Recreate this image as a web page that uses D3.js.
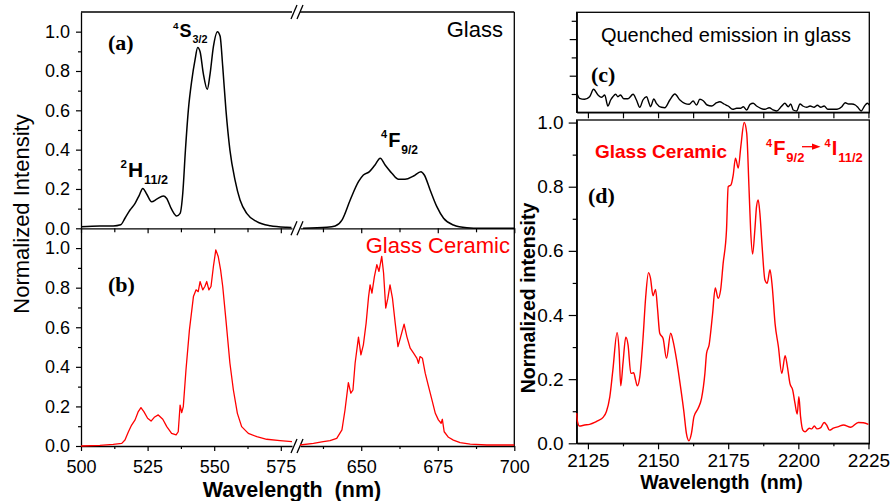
<!DOCTYPE html>
<html>
<head>
<meta charset="utf-8">
<script src="https://cdn.jsdelivr.net/npm/d3@7"></script>
<style>
  body { margin: 0; background: #fff; }
  svg text { font-family: "Liberation Sans", Arial, sans-serif; }
</style>
</head>
<body>
<div id="chart"></div>
<script>
// ---- data ----
// (a) glass, visible emission
const glassWl = [500, 507.1, 512.1, 514.9, 516.5, 518.4, 520.3, 521.9, 523.2, 524.7, 526.5, 528.4, 530.9, 532.1, 534.0,
  535.9, 537.2, 538.2, 539.2, 540.3, 541.6, 542.8, 543.8, 544.7, 545.9, 547.4, 548.4, 549.7, 551.2, 552.2, 553.2, 554.4,
  555.9, 557.8, 559.7, 562.2, 566.0, 571.0, 577.2, 579,
  631, 638.8, 641.5, 643.7, 646.4, 649.1, 650.7, 652.7, 654.5, 656.2, 657.8, 660.0, 662.2, 664.3, 667.1, 669.5, 670.6,
  672.5, 674.7, 676.9, 680.1, 684.5, 688.9, 700];
const glassInt = [0.008, 0.012, 0.012, 0.018, 0.051, 0.093, 0.127, 0.169, 0.203, 0.173, 0.135, 0.148, 0.164, 0.153, 0.097,
  0.063, 0.076, 0.178, 0.398, 0.602, 0.754, 0.856, 0.919, 0.898, 0.788, 0.707, 0.780, 0.924, 1.0, 0.978, 0.822, 0.602,
  0.398, 0.246, 0.144, 0.076, 0.034, 0.013, 0.005, 0.004,
  0, 0.005, 0.012, 0.042, 0.144, 0.237, 0.271, 0.288, 0.322, 0.356, 0.322, 0.280, 0.249, 0.249, 0.266, 0.288, 0.271,
  0.195, 0.110, 0.051, 0.017, 0.003, 0, 0];

// (b) glass ceramic, visible emission
const ceramicWl = [500, 507.1, 512.1, 515.3, 516.5, 517.8, 519.0, 520.3, 521.5, 522.5, 523.6, 525.0, 526.3, 527.5, 529.0,
  530.7, 532.2, 534.0, 535.7, 536.5, 537.2, 537.8, 538.4, 539.4, 540.7, 542.2, 543.2, 544.0, 544.7, 545.7, 546.5, 547.2,
  548.0, 548.8, 549.7, 550.6, 551.5, 552.4, 553.2, 554.4, 555.9, 557.2, 558.7, 560.3, 562.8, 566.0, 569.7, 574.7, 579.2,
  630, 634.4, 637.6, 639.8, 642.0, 643.7, 644.7, 645.8, 646.6, 647.3, 648.0, 649.1, 649.9, 650.7, 651.6, 652.4, 652.9,
  653.5, 654.3, 655.1, 655.8, 656.7, 657.3, 658.0, 658.7, 659.4, 660.2, 661.1, 662.0, 662.9, 664.0, 664.9, 666.0, 667.1,
  668.2, 668.7, 669.2, 670.0, 670.9, 672.0, 673.1, 674.2, 675.2, 676.1, 676.5, 677.1, 678.5, 680.1, 682.3, 685.6, 691.0, 700];
const ceramicInt = [0, 0.003, 0.008, 0.013, 0.030, 0.072, 0.106, 0.132, 0.174, 0.194, 0.174, 0.140, 0.126, 0.145, 0.157,
  0.135, 0.098, 0.064, 0.056, 0.072, 0.207, 0.169, 0.199, 0.384, 0.587, 0.755, 0.789, 0.780, 0.831, 0.789, 0.806, 0.831,
  0.789, 0.806, 0.907, 0.991, 0.958, 0.890, 0.806, 0.637, 0.418, 0.283, 0.165, 0.098, 0.064, 0.047, 0.034, 0.027, 0.022,
  0.005, 0.013, 0.022, 0.027, 0.039, 0.081, 0.182, 0.320, 0.267, 0.283, 0.418, 0.550, 0.460, 0.511, 0.621, 0.755, 0.814,
  0.772, 0.856, 0.916, 0.882, 0.958, 0.874, 0.697, 0.747, 0.814, 0.747, 0.621, 0.502, 0.553, 0.616, 0.553, 0.494, 0.469,
  0.443, 0.418, 0.452, 0.443, 0.368, 0.300, 0.233, 0.165, 0.132, 0.115, 0.135, 0.072, 0.044, 0.030, 0.017, 0.009, 0.005, 0.005];

// (c) glass, quenched IR emission (arbitrary units)
const quenchWl = [2121, 2122.0, 2123.8, 2125.6, 2127.0, 2128.6, 2129.8, 2131.0, 2132.1, 2133.1, 2133.9, 2134.9, 2135.7,
  2136.6, 2137.8, 2139.3, 2141.1, 2142.3, 2143.5, 2144.6, 2145.9, 2146.8, 2147.3, 2148.5, 2149.4, 2151.2, 2152.4, 2154.2,
  2156.0, 2157.8, 2159.5, 2161.1, 2162.5, 2163.7, 2164.9, 2166.1, 2167.5, 2169.1, 2170.9, 2172.0, 2173.5, 2175.0, 2176.6,
  2178.0, 2179.4, 2180.4, 2181.6, 2182.8, 2183.9, 2185.1, 2186.6, 2188.1, 2189.6, 2191.1, 2192.3, 2194.1, 2195.2, 2196.4,
  2197.3, 2198.2, 2199.4, 2200.6, 2201.6, 2203.0, 2204.2, 2205.6, 2206.8, 2208.0, 2209.2, 2210.5, 2212.0, 2213.8, 2215.5,
  2216.7, 2217.9, 2219.1, 2220.3, 2221.2, 2222.4, 2223.6, 2224.6, 2225.3];
const quenchInt = [0.196, 0.140, 0.130, 0.156, 0.230, 0.173, 0.150, 0.173, 0.063, 0.123, 0.156, 0.180, 0.156, 0.173, 0.136,
  0.136, 0.180, 0.123, 0.050, 0.123, 0.156, 0.090, 0.056, 0.133, 0.090, 0.050, 0.046, 0.123, 0.183, 0.123, 0.090, 0.080,
  0.113, 0.073, 0.130, 0.116, 0.073, 0.063, 0.096, 0.106, 0.083, 0.063, 0.030, 0.040, 0.040, 0.056, 0.023, 0.080, 0.090,
  0.063, 0.040, 0.030, 0.046, 0.023, 0.013, 0.063, 0.090, 0.056, 0.083, 0.023, 0.013, 0.083, 0.063, 0.050, 0.063, 0.050,
  0.070, 0.050, 0.063, 0.030, 0.030, 0.030, 0.056, 0.096, 0.083, 0.083, 0.073, 0.050, 0.013, 0.063, 0.090, 0.073];

// (d) glass ceramic, 4F9/2 -> 4I11/2 emission
const irWl = [2121.0, 2121.3, 2122.0, 2123.8, 2125.6, 2127.4, 2128.6, 2130.4, 2131.6, 2132.8, 2133.9, 2135.4, 2136.1,
  2136.7, 2137.5, 2138.5, 2139.3, 2140.3, 2141.3, 2142.0, 2142.6, 2143.5, 2144.6, 2145.6, 2146.6, 2147.3, 2148.2, 2149.1,
  2149.8, 2150.6, 2151.8, 2153.0, 2154.5, 2155.4, 2156.6, 2158.0, 2159.2, 2160.1, 2161.0, 2161.9, 2162.8, 2164.3, 2165.5,
  2166.7, 2167.3, 2168.2, 2169.4, 2170.4, 2171.4, 2172.3, 2173.2, 2174.4, 2175.0, 2176.0, 2176.8, 2177.6, 2178.6, 2179.5,
  2180.7, 2181.6, 2182.4, 2183.0, 2183.7, 2184.5, 2185.1, 2185.7, 2186.3, 2187.1, 2188.1, 2188.9, 2189.9, 2190.7, 2191.7,
  2192.9, 2194.1, 2195.3, 2196.1, 2197.0, 2198.0, 2198.8, 2199.6, 2200.2, 2200.8, 2201.6, 2202.4, 2203.9, 2204.8, 2205.7,
  2206.6, 2208.0, 2209.2, 2210.1, 2211.1, 2212.5, 2214.3, 2216.1, 2218.7, 2221.4, 2223.2, 2225.0];
const irInt = [0.094, 0.067, 0.054, 0.057, 0.059, 0.065, 0.071, 0.081, 0.099, 0.145, 0.229, 0.345, 0.291,
  0.179, 0.250, 0.331, 0.307, 0.218, 0.220, 0.197, 0.179, 0.208, 0.322, 0.457, 0.532, 0.515, 0.460, 0.480,
  0.421, 0.343, 0.327, 0.265, 0.343, 0.317, 0.260, 0.177, 0.099, 0.031, 0.008, 0.031, 0.083, 0.109, 0.140,
  0.218, 0.281, 0.307, 0.400, 0.484, 0.452, 0.478, 0.561, 0.665, 0.800, 0.806, 0.837, 0.889, 0.858, 0.925,
  1.000, 0.967, 0.800, 0.665, 0.590, 0.665, 0.738, 0.759, 0.717, 0.613, 0.509, 0.499, 0.541, 0.489, 0.374,
  0.301, 0.218, 0.273, 0.239, 0.187, 0.166, 0.125, 0.091, 0.145, 0.083, 0.041, 0.036, 0.047, 0.045, 0.054,
  0.045, 0.049, 0.065, 0.057, 0.041, 0.047, 0.052, 0.057, 0.050, 0.065, 0.064, 0.059];

// ticks
const visTicksLeft = [500, 525, 550, 575];
const visMinorLeft = [512.5, 537.5, 562.5];
const visTicksRight = [650, 675, 700];
const visMinorRight = [637.5, 662.5, 687.5];
const intTicks = [0, 0.2, 0.4, 0.6, 0.8, 1.0];
const intMinor = [0.1, 0.3, 0.5, 0.7, 0.9];
const irTicks = [2125, 2150, 2175, 2200, 2225];
const irMinor = [2137.5, 2162.5, 2187.5, 2212.5];
const quenchTicks = [0.366, 0.732];
const quenchMinor = [0.183, 0.549, 0.915];

const width = 891, height = 501;
const RED = "#ff0000";

const svg = d3.select("#chart").append("svg")
  .attr("width", width)
  .attr("height", height)
  .attr("viewBox", `0 0 ${width} ${height}`);

// broken x axis of the left panels
const xL = d3.scaleLinear().domain([500, 579.2]).range([81, 292]);
const xR = d3.scaleLinear().domain([630, 700]).range([300, 514.3]);
const yA = d3.scaleLinear().domain([0, 1.1]).range([228.3, 12]);
const yB = d3.scaleLinear().domain([0, 1.1]).range([446, 228.3]);

// right panels
const xIR = d3.scaleLinear().domain([2121, 2225.3]).range([576.7, 869.3]);
const yC = d3.scaleLinear().domain([0, 1]).range([112.3, 12.3]);
const yD = d3.scaleLinear().domain([0, 1.008]).range([443.3, 120]);

function styleAxis(g, size) {
  g.attr("font-family", '"Liberation Sans", Arial, sans-serif').attr("font-size", size);
  g.selectAll("path.domain").attr("stroke", "#000").attr("stroke-width", 1.3);
  g.selectAll(".tick line").attr("stroke", "#000").attr("stroke-width", 1.2);
  g.selectAll(".tick text").attr("fill", "#000");
}

function minorAxis(axisFn, scale, values, size, y, x) {
  svg.append("g")
    .attr("transform", `translate(${x || 0},${y || 0})`)
    .call(axisFn(scale).tickValues(values).tickSize(size).tickFormat(""))
    .call(g => g.select(".domain").remove())
    .call(g => g.selectAll(".tick line").attr("stroke", "#000").attr("stroke-width", 1.2));
}

function line(g, scaleX, scaleY, wl, val, color, w, curve) {
  const pts = wl.map((d, i) => [d, val[i]])
    .filter(p => p[0] >= scaleX.domain()[0] && p[0] <= scaleX.domain()[1]);
  g.append("path")
    .datum(pts)
    .attr("fill", "none")
    .attr("stroke", color)
    .attr("stroke-width", w)
    .attr("stroke-linejoin", "round")
    .attr("d", d3.line().x(p => scaleX(p[0])).y(p => scaleY(p[1])).curve(curve));
}

function breakMarks(y) {
  [294, 300].forEach(x => {
    svg.append("line")
      .attr("x1", x - 3).attr("y1", y + 7)
      .attr("x2", x + 3).attr("y2", y - 7)
      .attr("stroke", "#000").attr("stroke-width", 1.3);
  });
}

// ---- left panels (a) and (b) ----
const yFmt = d3.format(".1f");

// top frame of (a)
[xL, xR].forEach(s => {
  svg.append("line").attr("x1", s.range()[0]).attr("x2", s.range()[1])
    .attr("y1", 12).attr("y2", 12).attr("stroke", "#000").attr("stroke-width", 1.3);
});
// right frame
svg.append("line").attr("x1", 514.3).attr("x2", 514.3).attr("y1", 12).attr("y2", 446)
  .attr("stroke", "#000").attr("stroke-width", 1.3);

// (a) bottom axis, no labels
[[xL, visTicksLeft, visMinorLeft], [xR, visTicksRight, visMinorRight]].forEach(([s, maj, min]) => {
  svg.append("g").attr("transform", "translate(0,228.3)")
    .call(d3.axisBottom(s).tickValues(maj).tickSize(5).tickSizeOuter(0).tickFormat(""))
    .call(g => styleAxis(g, 18));
  minorAxis(d3.axisBottom, s, min, 4, 228.3);
});

// (b) bottom axis with labels
[[xL, visTicksLeft, visMinorLeft], [xR, visTicksRight, visMinorRight]].forEach(([s, maj, min]) => {
  svg.append("g").attr("transform", "translate(0,446)")
    .call(d3.axisBottom(s).tickValues(maj).tickSize(5).tickSizeOuter(0).tickPadding(9))
    .call(g => styleAxis(g, 18));
  minorAxis(d3.axisBottom, s, min, 3, 446);
});

// left y axes
[yA, yB].forEach(s => {
  svg.append("g").attr("transform", "translate(81,0)")
    .call(d3.axisLeft(s).tickValues(intTicks).tickSize(5).tickSizeOuter(0).tickPadding(6).tickFormat(yFmt))
    .call(g => styleAxis(g, 18));
  minorAxis(d3.axisLeft, s, intMinor, 3, 0, 81);
});

breakMarks(12);
breakMarks(228.3);
breakMarks(446);

const gA = svg.append("g");
line(gA, xL, yA, glassWl, glassInt, "#000", 1.5, d3.curveMonotoneX);
line(gA, xR, yA, glassWl, glassInt, "#000", 1.5, d3.curveMonotoneX);
const gB = svg.append("g");
line(gB, xL, yB, ceramicWl, ceramicInt, RED, 1.3, d3.curveLinear);
line(gB, xR, yB, ceramicWl, ceramicInt, RED, 1.3, d3.curveLinear);

// ---- right panels (c) and (d) ----
svg.append("rect").attr("x", 576.7).attr("y", 12.3).attr("width", 869.3 - 576.7).attr("height", 100)
  .attr("fill", "none").attr("stroke", "#000").attr("stroke-width", 1.3);
svg.append("g").attr("transform", "translate(0,112.3)")
  .call(d3.axisBottom(xIR).tickValues(irTicks.concat(irMinor)).tickSize(6).tickSizeOuter(0).tickFormat(""))
  .call(g => styleAxis(g, 19));
svg.append("g").attr("transform", "translate(576.7,0)")
  .call(d3.axisLeft(yC).tickValues(quenchTicks).tickSize(7).tickSizeOuter(0).tickFormat(""))
  .call(g => styleAxis(g, 19));
minorAxis(d3.axisLeft, yC, quenchMinor, 5, 0, 576.7);

svg.append("rect").attr("x", 576.7).attr("y", 120).attr("width", 869.3 - 576.7).attr("height", 443.3 - 120)
  .attr("fill", "none").attr("stroke", "#000").attr("stroke-width", 1.3);
svg.append("g").attr("transform", "translate(0,443.3)")
  .call(d3.axisBottom(xIR).tickValues(irTicks).tickSize(6).tickSizeOuter(0).tickPadding(4.5).tickFormat(d3.format("d")))
  .call(g => styleAxis(g, 19));
minorAxis(d3.axisBottom, xIR, irMinor, 3, 443.3);
svg.append("g").attr("transform", "translate(576.7,0)")
  .call(d3.axisLeft(yD).tickValues(intTicks).tickSize(8).tickSizeOuter(0).tickPadding(5).tickFormat(yFmt))
  .call(g => styleAxis(g, 19));
minorAxis(d3.axisLeft, yD, intMinor, 4, 0, 576.7);

line(svg.append("g"), xIR, yC, quenchWl, quenchInt, "#000", 1.4, d3.curveMonotoneX);
line(svg.append("g"), xIR, yD, irWl, irInt, RED, 1.4, d3.curveMonotoneX);

// ---- text ----
function label(x, y, str, opt) {
  const o = Object.assign({ size: 20, weight: "normal", color: "#000", anchor: "start", family: null }, opt || {});
  const t = svg.append("text")
    .attr("x", x).attr("y", y)
    .attr("font-size", o.size)
    .attr("font-weight", o.weight)
    .attr("fill", o.color)
    .attr("text-anchor", o.anchor)
    .style("white-space", "pre")
    .text(str);
  if (o.family) t.style("font-family", o.family);
  if (o.rotate) t.attr("transform", `rotate(-90,${x},${y})`);
  return t;
}

// term symbol like 4S3/2: superscript, letter, subscript
function term(x, y, sup, main, sub, size, color, subScale) {
  const k = subScale || 0.6;
  const t = svg.append("text").attr("x", x).attr("y", y)
    .attr("font-weight", "bold").attr("fill", color);
  t.append("tspan").attr("font-size", size * 0.55).attr("dy", -size * 0.42).text(sup);
  t.append("tspan").attr("font-size", size).attr("dy", size * 0.42).attr("dx", 1).text(main);
  t.append("tspan").attr("font-size", size * k).attr("dy", size * 0.36).attr("dx", 1).text(sub);
}

const serif = '"Liberation Serif", "Times New Roman", serif';
label(108, 50, "(a)", { size: 22, weight: "bold", family: serif });
label(108, 292, "(b)", { size: 22, weight: "bold", family: serif });
label(591, 82, "(c)", { size: 22, weight: "bold", family: serif });
label(588, 203, "(d)", { size: 22, weight: "bold", family: serif });

label(503, 37, "Glass", { size: 22, anchor: "end" });
label(510, 253, "Glass Ceramic", { size: 22, anchor: "end", color: RED });
label(726, 42, "Quenched emission in glass", { size: 20, anchor: "middle" });
label(595, 158, "Glass Ceramic", { size: 19, weight: "bold", color: RED });

term(173, 37, "4", "S", "3/2", 18, "#000");
term(120.5, 176.5, "2", "H", "11/2", 21, "#000");
term(381, 146.5, "4", "F", "9/2", 20, "#000");
term(766, 155, "4", "F", "9/2", 20, RED, 0.65);
term(824.5, 155, "4", "I", "11/2", 20, RED, 0.65);

// arrow 4F9/2 -> 4I11/2
svg.append("line").attr("x1", 802).attr("y1", 146.7).attr("x2", 814).attr("y2", 146.7)
  .attr("stroke", RED).attr("stroke-width", 1.3);
svg.append("path").attr("d", "M812,143.6L820.5,146.7L812,149.8Z").attr("fill", RED);

label(29, 214, "Normalized Intensity", { size: 22, anchor: "middle", rotate: true });
label(292, 496.5, "Wavelength  (nm)", { size: 21.5, weight: "bold", anchor: "middle" });
label(535, 298, "Normalized intensity", { size: 19.5, weight: "bold", anchor: "middle", rotate: true });
label(721.5, 489, "Wavelength  (nm)", { size: 19.6, weight: "bold", anchor: "middle" });
</script>
</body>
</html>
